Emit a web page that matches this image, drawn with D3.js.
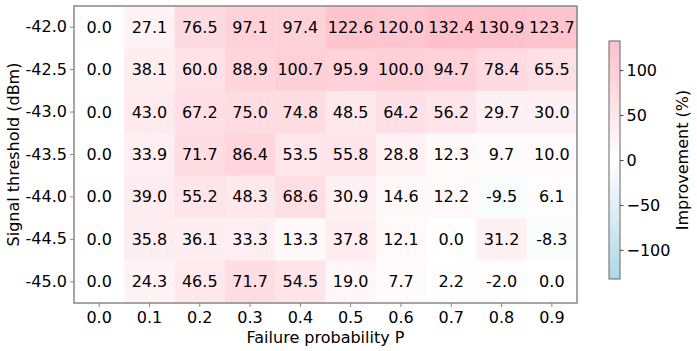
<!DOCTYPE html>
<html>
<head>
<meta charset="utf-8">
<script src="https://cdn.jsdelivr.net/npm/d3@7"></script>
<style>
  body { margin: 0; background: #fff; }
  text { font-family: "DejaVu Sans", sans-serif; fill: #000; }
</style>
</head>
<body>
<svg id="chart" width="697" height="351"></svg>
<script>
// failure probability P (columns) and signal thresholds (rows, top to bottom)
var probs = ["0.0", "0.1", "0.2", "0.3", "0.4", "0.5", "0.6", "0.7", "0.8", "0.9"];
var thresholds = ["-42.0", "-42.5", "-43.0", "-43.5", "-44.0", "-44.5", "-45.0"];

// improvement (%) per row
var row420 = [0.0, 27.1, 76.5, 97.1, 97.4, 122.6, 120.0, 132.4, 130.9, 123.7];
var row425 = [0.0, 38.1, 60.0, 88.9, 100.7, 95.9, 100.0, 94.7, 78.4, 65.5];
var row430 = [0.0, 43.0, 67.2, 75.0, 74.8, 48.5, 64.2, 56.2, 29.7, 30.0];
var row435 = [0.0, 33.9, 71.7, 86.4, 53.5, 55.8, 28.8, 12.3, 9.7, 10.0];
var row440 = [0.0, 39.0, 55.2, 48.3, 68.6, 30.9, 14.6, 12.2, -9.5, 6.1];
var row445 = [0.0, 35.8, 36.1, 33.3, 13.3, 37.8, 12.1, 0.0, 31.2, -8.3];
var row450 = [0.0, 24.3, 46.5, 71.7, 54.5, 19.0, 7.7, 2.2, -2.0, 0.0];
var rows = [row420, row425, row430, row435, row440, row445, row450];

var cbarTicks = [-100, -50, 0, 50, 100];

var svg = d3.select("#chart");
var margin = { left: 74, top: 6, right: 120, bottom: 48 };
var W = 697, H = 351;
var x0 = margin.left, x1 = 577, y0 = margin.top, y1 = 303;

var cells = [];
rows.forEach(function(r, i) {
  r.forEach(function(v, j) {
    cells.push({ row: thresholds[i], col: probs[j], v: v });
  });
});

var vmax = d3.max(cells, function(d) { return Math.abs(d.v); });
var color = d3.scaleLinear()
  .domain([-vmax, 0, vmax])
  .range(["#add8e6", "#ffffff", "#ffc0cb"]);

var x = d3.scaleBand().domain(probs).range([x0, x1]);
var y = d3.scaleBand().domain(thresholds).range([y0, y1]);

var g = svg.append("g");
g.selectAll("rect.cell")
  .data(cells)
  .enter().append("rect")
  .attr("class", "cell")
  .attr("x", function(d) { return x(d.col); })
  .attr("y", function(d) { return y(d.row); })
  .attr("width", x.bandwidth() + 0.5)
  .attr("height", y.bandwidth() + 0.5)
  .attr("fill", function(d) { return color(d.v); });

g.selectAll("text.val")
  .data(cells)
  .enter().append("text")
  .attr("class", "val")
  .attr("x", function(d) { return x(d.col) + x.bandwidth() / 2; })
  .attr("y", function(d) { return y(d.row) + y.bandwidth() / 2; })
  .attr("text-anchor", "middle")
  .attr("dominant-baseline", "central")
  .style("font-size", "16px")
  .text(function(d) { return d.v.toFixed(1); });

// frame
svg.append("rect")
  .attr("x", x0).attr("y", y0)
  .attr("width", x1 - x0).attr("height", y1 - y0)
  .attr("fill", "none").attr("stroke", "#888").attr("stroke-width", 1.5);

var xAxis = svg.append("g")
  .attr("transform", "translate(0," + y1 + ")")
  .call(d3.axisBottom(x).tickSize(4).tickPadding(5));
var yAxis = svg.append("g")
  .attr("transform", "translate(" + x0 + ",0)")
  .call(d3.axisLeft(y).tickSize(4).tickPadding(3));
[xAxis, yAxis].forEach(function(a) {
  a.select(".domain").remove();
  a.selectAll(".tick line").attr("stroke", "#888");
  a.selectAll(".tick text").style("font-size", "16px").attr("fill", "#000")
    .style("font-family", "DejaVu Sans");
});

svg.append("text")
  .attr("x", (x0 + x1) / 2).attr("y", 343)
  .attr("text-anchor", "middle")
  .style("font-size", "16px")
  .text("Failure probability P");

svg.append("text")
  .attr("transform", "translate(19," + (y0 + y1) / 2 + ") rotate(-90)")
  .attr("text-anchor", "middle")
  .style("font-size", "16px")
  .text("Signal threshold (dBm)");

// colorbar
var cbX = 609, cbW = 11, cbTop = 41, cbBot = 279;
var cy = d3.scaleLinear().domain([-vmax, vmax]).range([cbBot, cbTop]);
var defs = svg.append("defs");
var grad = defs.append("linearGradient").attr("id", "cbGrad")
  .attr("x1", 0).attr("y1", 1).attr("x2", 0).attr("y2", 0);
grad.selectAll("stop")
  .data([-vmax, 0, vmax])
  .enter().append("stop")
  .attr("offset", function(d) { return (d + vmax) / (2 * vmax); })
  .attr("stop-color", function(d) { return color(d); });

svg.append("rect")
  .attr("x", cbX).attr("y", cbTop)
  .attr("width", cbW).attr("height", cbBot - cbTop)
  .attr("fill", "url(#cbGrad)")
  .attr("stroke", "#666").attr("stroke-width", 1);

var cAxis = svg.append("g")
  .attr("transform", "translate(" + (cbX + cbW) + ",0)")
  .call(d3.axisRight(cy).tickValues(cbarTicks).tickSize(3.5).tickPadding(3)
    .tickFormat(function(d) { return d < 0 ? "\u2212" + Math.abs(d) : d; }));
cAxis.select(".domain").remove();
cAxis.selectAll(".tick line").attr("stroke", "#444");
cAxis.selectAll(".tick text").style("font-size", "16px").attr("fill", "#000")
  .style("font-family", "DejaVu Sans");

svg.append("text")
  .attr("transform", "translate(688," + (cbTop + cbBot) / 2 + ") rotate(-90)")
  .attr("text-anchor", "middle")
  .style("font-size", "16px")
  .text("Improvement (%)");
</script>
</body>
</html>
